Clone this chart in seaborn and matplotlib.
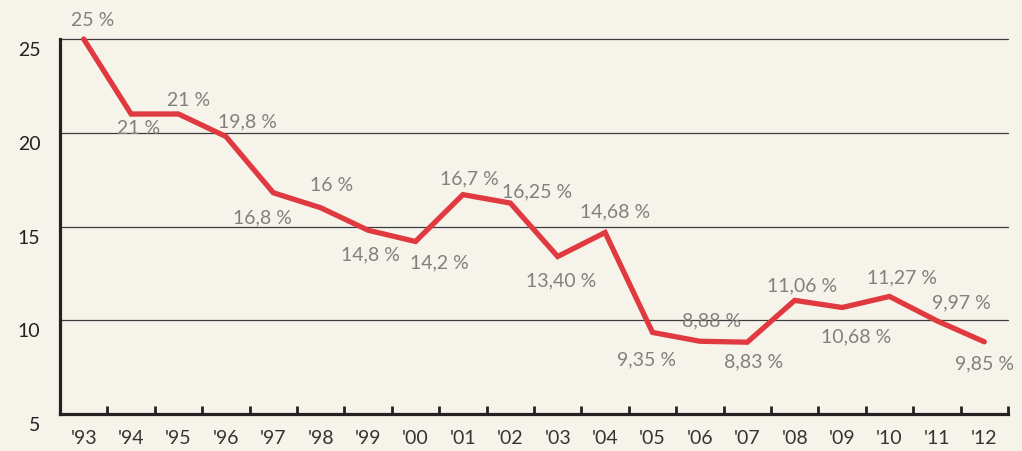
import numpy as np
import pandas as pd
import matplotlib
matplotlib.use("Agg")
import matplotlib.pyplot as plt
import matplotlib.transforms as mtransforms
import seaborn as sns

# ---- data ----
years = ["'93", "'94", "'95", "'96", "'97", "'98", "'99", "'00", "'01", "'02",
         "'03", "'04", "'05", "'06", "'07", "'08", "'09", "'10", "'11", "'12"]
values = [25, 21, 21, 19.8, 16.8, 16, 14.8, 14.2, 16.7, 16.25,
          13.40, 14.68, 9.35, 8.88, 8.83, 11.06, 10.68, 11.27, 9.97, 8.85]
value_labels = ["25 %", "21 %", "21 %", "19,8 %", "16,8 %", "16 %", "14,8 %", "14,2 %",
                "16,7 %", "16,25 %", "13,40 %", "14,68 %", "9,35 %", "8,88 %",
                "8,83 %", "11,06 %", "10,68 %", "11,27 %", "9,97 %", "9,85 %"]
y_ticks = [5, 10, 15, 20, 25]

# label offsets in pixels (dx, dy) relative to points
offsets = [(9, 20), (7, -13), (10, 15), (22, 16), (-11, -24), (11, 23), (2, -24),
           (24, -20), (6, 17), (27, 12), (3, -23), (10, 22), (-6, -26), (12, 21),
           (6, -19), (7, 16), (14, -28), (12, 20), (24, 19), (0, -21)]

BG = "#f6f3ea"
RED = "#e0393f"

sns.set_theme(style="white")
plt.rcParams["font.family"] = ["Lato", "DejaVu Sans"]

fig = plt.figure(figsize=(10.22, 4.52), dpi=100, facecolor=BG)
ax = fig.add_axes([60 / 1022, (452 - 415) / 452, (1008 - 60) / 1022, (415 - 40) / 452])
ax.set_facecolor(BG)

df = pd.DataFrame({"x": np.arange(len(years)), "y": values})
sns.lineplot(data=df, x="x", y="y", ax=ax, color=RED, linewidth=3.8, sort=False,
             solid_capstyle="round", solid_joinstyle="miter", clip_on=False, zorder=5)

ax.set_xlim(-0.5, len(years) - 0.5)
ax.set_ylim(5, 25)
ax.set_xlabel("")
ax.set_ylabel("")

# gridlines
ax.set_yticks(y_ticks)
for yv in y_ticks[1:]:
    ax.axhline(yv, color="#3c3c3c", linewidth=0.9, zorder=2, clip_on=False)

# spines
for s in ["top", "right"]:
    ax.spines[s].set_visible(False)
for s in ["left", "bottom"]:
    ax.spines[s].set_color("#222222")
    ax.spines[s].set_linewidth(2.3)
    ax.spines[s].set_zorder(6)

# y tick labels
ax.tick_params(axis="y", length=0, pad=14, labelsize=14, labelcolor="#222222")
ax.set_yticklabels([str(v) for v in y_ticks])
off = mtransforms.ScaledTranslation(0, -9 / 100, fig.dpi_scale_trans)
for lab in ax.get_yticklabels():
    lab.set_transform(lab.get_transform() + off)

# x ticks: labels at category centres, marks at boundaries
ax.set_xticks(np.arange(len(years)))
ax.set_xticklabels(years)
ax.tick_params(axis="x", which="major", length=0, pad=11, labelsize=14, labelcolor="#333333")
ax.set_xticks(np.arange(len(years)) + 0.5, minor=True)
ax.tick_params(axis="x", which="minor", direction="in", length=6, width=2.0,
               color="#222222", bottom=True)

# value labels
for i, (v, t, (dx, dy)) in enumerate(zip(values, value_labels, offsets)):
    ax.annotate(t, xy=(i, v), xytext=(dx, dy), textcoords="offset pixels",
                ha="center", va="center", fontsize=14, color="#808080",
                annotation_clip=False, zorder=7)

fig.savefig("out.png", dpi=100, facecolor=BG)
